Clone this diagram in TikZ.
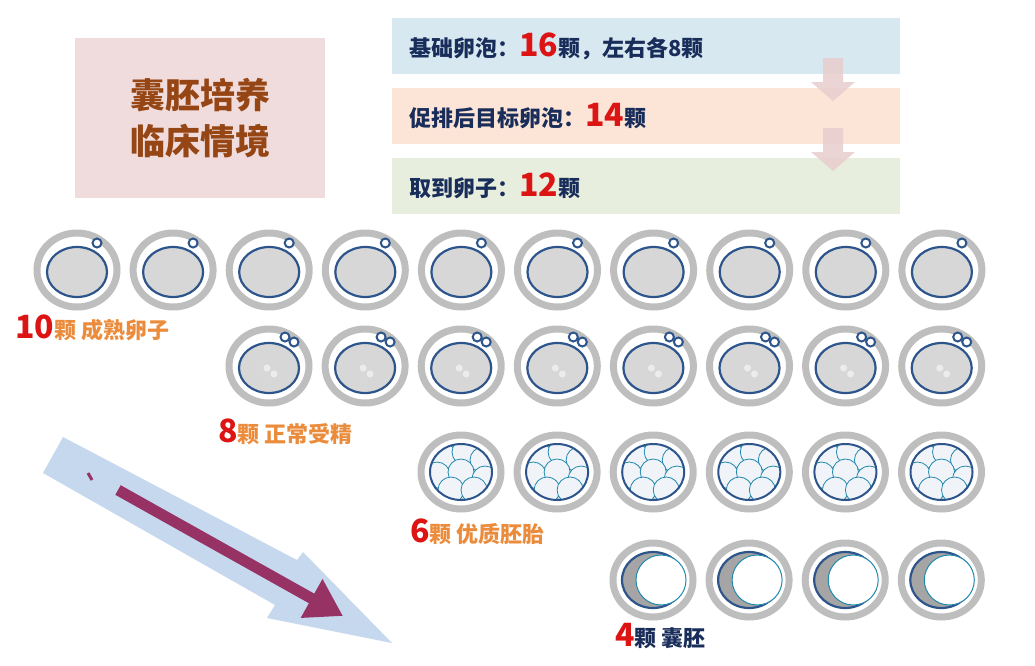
\documentclass[tikz,border=0pt]{standalone}
\usepackage{fontspec}
\setmainfont{Noto Sans CJK SC}
\usetikzlibrary{arrows.meta}
\definecolor{ring}{RGB}{190,190,190}
\definecolor{cellb}{RGB}{45,85,140}
\definecolor{cellf}{RGB}{215,215,215}
\definecolor{bgray}{RGB}{165,165,165}
\definecolor{num}{RGB}{220,20,20}
\definecolor{lab}{RGB}{235,140,60}
\definecolor{navy}{RGB}{25,45,90}
\definecolor{titlec}{RGB}{150,70,20}
\definecolor{tbox}{RGB}{240,220,220}
\definecolor{b1}{RGB}{215,232,240}
\definecolor{b2}{RGB}{252,228,214}
\definecolor{b3}{RGB}{232,238,222}
\definecolor{darr}{RGB}{232,205,205}
\definecolor{barr}{RGB}{198,216,238}
\definecolor{parr}{RGB}{150,50,100}
\definecolor{emb}{RGB}{240,244,248}
\tikzset{
 ringst/.style={draw=ring,line width=7pt,fill=white},
 cellst/.style={draw=cellb,line width=2.2pt,fill=cellf},
 infobox/.style={anchor=north west,minimum width=508pt,minimum height=56pt,text width=490pt,inner sep=0pt,align=left,font=\fontsize{22}{24}\selectfont\bfseries,text=navy},
 labst/.style={anchor=west,inner sep=0pt,font=\fontsize{22}{24}\selectfont\bfseries,text=lab},
 pics/egg/.style={code={
  \draw[ringst] (0,0) ellipse (40pt and 37pt);
  \draw[cellst] (0,2) ellipse (30pt and 25pt);
  \draw[draw=cellb,line width=2pt,fill=white] (20,-27) circle (4.5pt);}},
 pics/zyg/.style={code={
  \draw[ringst] (0,0) ellipse (40pt and 37pt);
  \draw[cellst] (0,2) ellipse (30pt and 25pt);
  \draw[draw=cellb,line width=2pt,fill=white] (16,-29) circle (4.5pt);
  \draw[draw=cellb,line width=2pt,fill=white] (25,-24) circle (4.5pt);
  \fill[white!85!gray] (-2,2) circle (3.5pt) (5,8) circle (3.5pt);}},
 pics/embr/.style={code={
  \draw[ringst] (0,0) ellipse (40pt and 37pt);
  \begin{scope}
  \clip (0,0) ellipse (31pt and 28pt);
  \fill[cellf] (0,0) ellipse (31pt and 28pt);
  \foreach \p in {(-18,-16),(4,-20),(22,-12),(-24,3),(0,0),(24,7),(-10,18),(13,18)}
   \draw[cellb!70!cyan,line width=0.8pt,fill=emb] \p circle (13pt);
  \end{scope}
  \draw[cellb,line width=2pt] (0,0) ellipse (31pt and 28pt);}},
 pics/blast/.style={code={
  \draw[ringst] (0,0) ellipse (40pt and 37pt);
  \draw[cellst,fill=bgray] (0,0) ellipse (31pt and 28pt);
  \draw[draw=cellb!70!cyan,line width=1pt,fill=white] (8,0) circle (25pt);}},
}
\begin{document}
\begin{tikzpicture}[x=1pt,y=-1pt]
\useasboundingbox (0,0) rectangle (1035,665);
% title
\node[fill=tbox,minimum width=250pt,minimum height=160pt,align=center,font=\fontsize{35}{46}\selectfont\bfseries,text=titlec] (title) at (200,118) {囊胚培养\\临床情境};
% info boxes
\node[fill=b1,infobox] (i1) at (392,18) {\hspace{8pt}基础卵泡：{\color{num}\fontsize{32}{30}\selectfont 16}颗，左右各8颗};
\node[fill=b2,infobox] (i2) at (392,88) {\hspace{8pt}促排后目标卵泡：{\color{num}\fontsize{32}{30}\selectfont 14}颗};
\node[fill=b3,infobox] (i3) at (392,158) {\hspace{8pt}取到卵子：{\color{num}\fontsize{32}{30}\selectfont 12}颗};
\fill[darr,opacity=.85] (823,58)--(843,58)--(843,82)--(855,82)--(833,101)--(811,82)--(823,82)--cycle;
\fill[darr,opacity=.85] (823,128)--(843,128)--(843,152)--(855,152)--(833,171)--(811,152)--(823,152)--cycle;
% rows
\foreach \i in {0,...,9} \pic at (77+96.1*\i,270) {egg};
\foreach \i in {0,...,7} \pic at (269+96.1*\i,366) {zyg};
\foreach \i in {0,...,5} \pic at (461+96.1*\i,472) {embr};
\foreach \i in {0,...,3} \pic at (653+96.1*\i,580) {blast};
\node[labst] (l1) at (15,328) {{\color{num}\fontsize{32}{30}\selectfont 10}颗 成熟卵子};
\node[labst] (l2) at (218,432) {{\color{num}\fontsize{32}{30}\selectfont 8}颗 正常受精};
\node[labst] (l3) at (410,532) {{\color{num}\fontsize{32}{30}\selectfont 6}颗 优质胚胎};
\node[labst,text=navy] (l4) at (615,636) {{\color{num}\fontsize{32}{30}\selectfont 4}颗 囊胚};
% big arrow
\fill[barr] (63,437)--(297,560)--(303,552)--(392,643)--(267,618)--(275,605)--(43,473)--cycle;
\draw[parr,line width=3pt] (88,473)--(92,480);
\coordinate (pa) at (118,490);
\coordinate (pb) at (343,616);
\draw[parr,line width=11pt,-{Triangle[length=36pt,width=42pt]}] (pa)--(pb);
\end{tikzpicture}
\end{document}
